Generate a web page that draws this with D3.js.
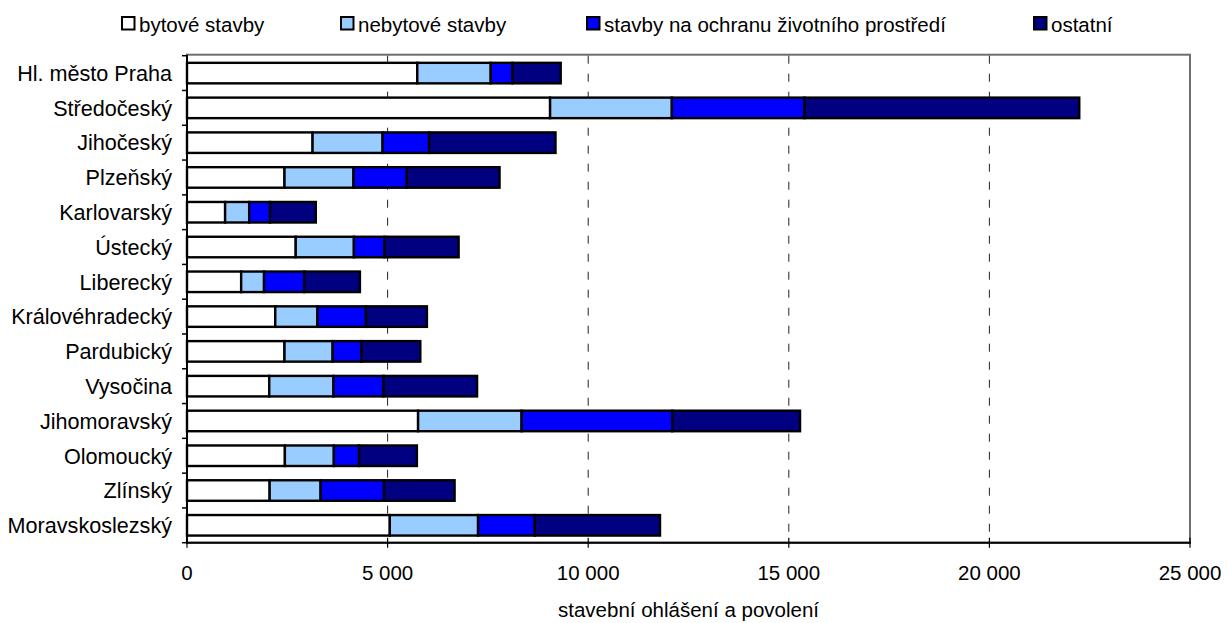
<!DOCTYPE html>
<html><head><meta charset="utf-8">
<script src="https://cdn.jsdelivr.net/npm/d3@7/dist/d3.min.js"></script>
<style>
html,body{margin:0;padding:0;background:#fff;}
text{font-family:"Liberation Sans",Arial,sans-serif;fill:#000;}
</style></head>
<body>
<svg id="chart" width="1227" height="623"></svg>
<script>
const categories = ["Hl. město Praha","Středočeský","Jihočeský","Plzeňský","Karlovarský","Ústecký","Liberecký","Královéhradecký","Pardubický","Vysočina","Jihomoravský","Olomoucký","Zlínský","Moravskoslezský"];
const seriesNames = ["bytové stavby","nebytové stavby","stavby na ochranu životního prostředí","ostatní"];
const bytove   = [5740, 9050, 3130, 2430,  950, 2710, 1350, 2200, 2430, 2050, 5760, 2440, 2060, 5055];
const nebytove = [1830, 3035, 1745, 1720,  600, 1450,  570, 1050, 1200, 1600, 2580, 1220, 1270, 2200];
const ochrana  = [ 540, 3305, 1160, 1330,  520,  760, 1000, 1210,  715, 1250, 3755,  630, 1580, 1415];
const ostatni  = [1205, 6850, 3150, 2310, 1140, 1850, 1390, 1520, 1470, 2330, 3185, 1440, 1760, 3120];
const xTicks = [0, 5000, 10000, 15000, 20000, 25000];
const gridTicks = [5000, 10000, 15000, 20000];
const axisTitle = "stavební ohlášení a povolení";
const colors = ["#FFFFFF","#99CCFF","#0000FF","#000080"];

const keys = ["s0","s1","s2","s3"];
const table = categories.map((c,i)=>({cat:c, s0:bytove[i], s1:nebytove[i], s2:ochrana[i], s3:ostatni[i]}));
const stacked = d3.stack().keys(keys)(table);

const svg = d3.select("#chart");
const L = 187, R = 1190, T = 55.7, B = 542.7;
const x = d3.scaleLinear().domain([0,25000]).range([L,R]);
const y = d3.scaleBand().domain(categories).range([T,B]).paddingInner(0.41).paddingOuter(0.205);
const fmt = v => d3.format(",")(v).replace(/,/g," ");
const FS = "20.5px";

// frame (top/right gray)
svg.append("rect").attr("x",L).attr("y",T-1).attr("width",R-L).attr("height",B-T+1)
  .attr("fill","none").attr("stroke","#6e6e6e").attr("stroke-width",2);

// gridlines
svg.append("g").selectAll("line").data(gridTicks).join("line")
  .attr("x1",d=>x(d)).attr("x2",d=>x(d)).attr("y1",T).attr("y2",B)
  .attr("stroke","#222").attr("stroke-width",1).attr("stroke-dasharray","8,10");

// bars
svg.append("g").selectAll("g").data(stacked).join("g")
  .attr("fill",(d,i)=>colors[i])
  .selectAll("rect").data(d=>d).join("rect")
  .attr("x",d=>x(d[0])).attr("width",d=>x(d[1])-x(d[0]))
  .attr("y",d=>y(d.data.cat)).attr("height",y.bandwidth())
  .attr("stroke","#000").attr("stroke-width",2.4);

// y axis
const step = y.step();
const yBounds = d3.range(categories.length+1).map(i=>T+i*step);
svg.append("g").selectAll("line").data(yBounds).join("line")
  .attr("x1",L-5).attr("x2",L).attr("y1",d=>d).attr("y2",d=>d)
  .attr("stroke","#000").attr("stroke-width",1.5);
svg.append("line").attr("x1",L).attr("x2",L).attr("y1",T-1).attr("y2",B+1)
  .attr("stroke","#000").attr("stroke-width",2);
svg.append("g").selectAll("text").data(categories).join("text")
  .attr("x",172).attr("y",d=>y(d)+y.bandwidth()/2).attr("dy","0.36em")
  .attr("text-anchor","end").style("font-size","21.6px").text(d=>d);

// x axis
svg.append("line").attr("x1",L-1).attr("x2",R+1).attr("y1",B).attr("y2",B)
  .attr("stroke","#000").attr("stroke-width",2);
svg.append("g").selectAll("line").data(xTicks).join("line")
  .attr("x1",d=>x(d)).attr("x2",d=>x(d)).attr("y1",B-5).attr("y2",B+5)
  .attr("stroke","#000").attr("stroke-width",1.2);
svg.append("g").selectAll("text").data(xTicks).join("text")
  .attr("x",d=>x(d)).attr("y",580).attr("text-anchor","middle")
  .style("font-size",FS).text(d=>fmt(d));
svg.append("text").attr("x",(L+R)/2).attr("y",617).attr("text-anchor","middle")
  .style("font-size",FS).text(axisTitle);

// legend
const legX = [122, 341, 587, 1034];
const lg = svg.append("g").selectAll("g").data(seriesNames).join("g")
  .attr("transform",(d,i)=>`translate(${legX[i]},17)`);
lg.append("rect").attr("width",12.5).attr("height",12.5)
  .attr("fill",(d,i)=>colors[i]).attr("stroke","#000").attr("stroke-width",2);
lg.append("text").attr("x",17).attr("y",14.5).style("font-size",FS).text(d=>d);
</script>
</body></html>
